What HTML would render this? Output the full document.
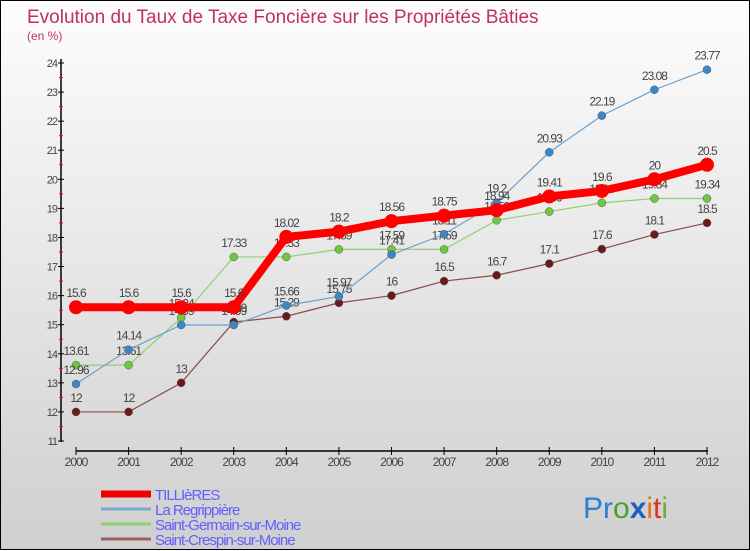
<!DOCTYPE html>
<html><head><meta charset="utf-8">
<style>
body{margin:0;width:750px;height:550px;overflow:hidden;font-family:"Liberation Sans",sans-serif;}
#wrap{position:relative;width:748px;height:548px;border:1px solid #000;background:linear-gradient(#fdfdfd,#cfcfcf);}
svg{position:absolute;left:0;top:0}
</style></head><body>
<div id="wrap">
<svg id="chart" width="750" height="550">
<text x="26" y="22" font-size="19" fill="#c03060">Evolution du Taux de Taxe Foncière sur les Propriétés Bâties</text>
<text x="26" y="39" font-size="12" fill="#c03060">(en %)</text>
<g id="axes"></g><g id="series"></g><g id="legend"></g>
<text x="582" y="517" font-size="30" font-family="Liberation Sans"><tspan fill="#2a7fd0">Pr</tspan><tspan fill="#4aa030">o</tspan><tspan fill="#1a60c0" font-weight="bold">x</tspan><tspan fill="#f07010">i</tspan><tspan fill="#e03020">t</tspan><tspan fill="#70b030">i</tspan></text>
</svg></div>
<script>
const years=[2000,2001,2002,2003,2004,2005,2006,2007,2008,2009,2010,2011,2012];
const tillieres=[15.6,15.6,15.6,15.6,18.02,18.2,18.56,18.75,18.94,19.41,19.6,20,20.5];
const regrippiere=[12.96,14.14,14.99,14.99,15.66,15.97,17.41,18.11,19.2,20.93,22.19,23.08,23.77];
const germain=[13.61,13.61,15.24,17.33,17.33,17.59,17.59,17.59,18.59,18.89,19.19,19.34,19.34];
const crespin=[12,12,13,15.09,15.29,15.75,16,16.5,16.7,17.1,17.6,18.1,18.5];
const yTicks=[11,12,13,14,15,16,17,18,19,20,21,22,23,24];
const NS="http://www.w3.org/2000/svg";
const X=i=>75+i*(706-75)/12;
const Y=v=>440-(v-11)*(440-62)/13;
function mk(tag,attrs,parent){const e=document.createElementNS(NS,tag);for(const k in attrs)e.setAttribute(k,attrs[k]);parent.appendChild(e);return e;}
const ax=document.getElementById('axes');
let e=mk('line',{x1:60,y1:58,x2:60,y2:441,stroke:'#000','stroke-width':1.5},ax);


e=mk('line',{x1:75,y1:450,x2:707,y2:450,stroke:'#000','stroke-width':1.5},ax);


yTicks.forEach(v=>{
  mk('line',{x1:57,x2:63,y1:Y(v),y2:Y(v),stroke:'#000'},ax);
  if(v<24)mk('line',{x1:58,x2:62,y1:Y(v+0.5),y2:Y(v+0.5),stroke:'#f00'},ax);
  const t=mk('text',{x:56,y:Y(v)+4,'font-size':11,'text-anchor':'end',fill:'#444','letter-spacing':'-1'},ax);t.textContent=v;
  
  
});
years.forEach((y,i)=>{
  mk('line',{x1:X(i),x2:X(i),y1:446,y2:454,stroke:'#000'},ax);
  const t=mk('text',{x:X(i),y:465,'font-size':12,'text-anchor':'middle',fill:'#444','letter-spacing':'-1'},ax);t.textContent=y;
  
  
});
const S=document.getElementById('series');
function draw(data,color,dot,w,r,name){
  const g=mk('g',{},S);
  
  
  mk('polyline',{points:data.map((v,i)=>X(i)+','+Y(v)).join(' '),fill:'none',stroke:color,'stroke-width':w},g);
  data.forEach((v,i)=>{
    const c=mk('circle',{cx:X(i),cy:Y(v),r:r,fill:dot,stroke:w>3?'none':'#555','stroke-width':0.5},g);
    
    
    const t=mk('text',{x:X(i),y:Y(v)-10,'font-size':12,'text-anchor':'middle',fill:'#444','letter-spacing':'-1'},g);t.textContent=v;
    
    
  });
}
draw(crespin,'#8a4a4a','#6a1a1a',1.2,4,'saint-crespin-series');
draw(germain,'#90d070','#70c840',1.2,4,'saint-germain-series');
draw(regrippiere,'#6aa0d0','#3a88c8',1.2,4,'la-regrippiere-series');
draw(tillieres,'#ff0000','#ff0000',8,7,'tillieres-series');
const L=document.getElementById('legend');
[['TILLIèRES','#e00',7],['La Regrippière','#7aa8d0',3],['Saint-Germain-sur-Moine','#90d070',3],['Saint-Crespin-sur-Moine','#9a6060',3]].forEach((d,i)=>{
  const y=493+i*15;
  mk('line',{x1:100,x2:150,y1:y,y2:y,stroke:d[1],'stroke-width':d[2]},L);
  const t=mk('text',{x:154,y:y+6,'font-size':15,fill:'#6060ff','letter-spacing':'-1'},L);t.textContent=d[0];
  
  
});
</script>
</body></html>
